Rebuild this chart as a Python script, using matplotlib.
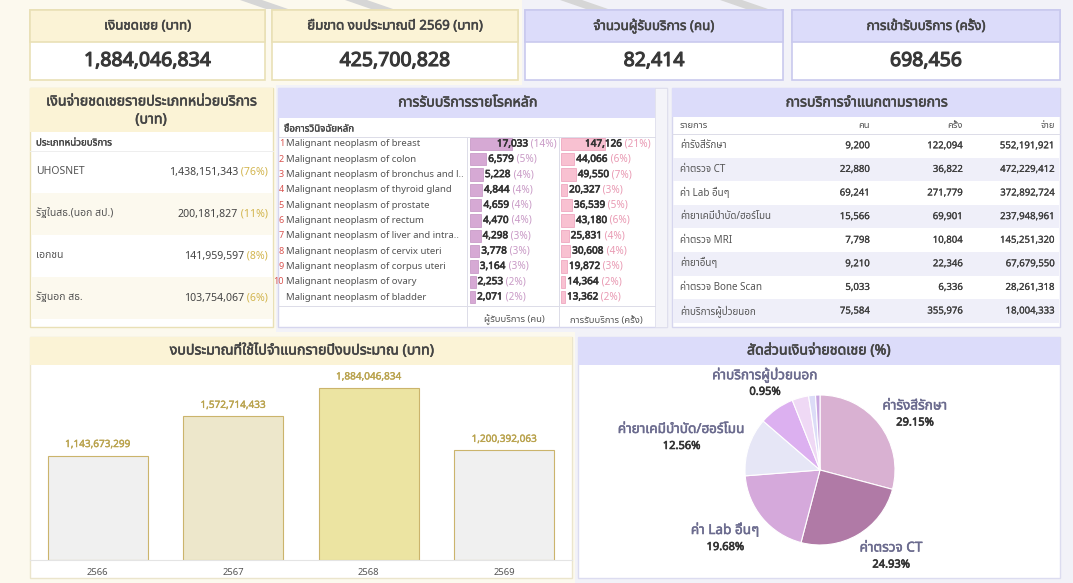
import matplotlib
matplotlib.use('Agg')
import matplotlib.pyplot as plt
from matplotlib import font_manager
from matplotlib import patheffects as pe
from matplotlib.ft2font import FT2Font
from matplotlib.patches import Rectangle, Polygon
import numpy as np

# ---------------- data ----------------
kpi_titles = ['เงินชดเชย (บาท)', 'ยืมขาด งบประมาณปี 2569 (บาท)',
              'จำนวนผู้รับบริการ (คน)', 'การเข้ารับบริการ (ครั้ง)']
kpi_values = [1884046834, 425700828, 82414, 698456]

unit_types = ['UHOSNET', 'รัฐในสธ.(นอก สป.)', 'เอกชน', 'รัฐนอก สธ.']
unit_paid = [1438151343, 200181827, 141959597, 103754067]

diseases = ['Malignant neoplasm of breast', 'Malignant neoplasm of colon',
            'Malignant neoplasm of bronchus and l..', 'Malignant neoplasm of thyroid gland',
            'Malignant neoplasm of prostate', 'Malignant neoplasm of rectum',
            'Malignant neoplasm of liver and intra..', 'Malignant neoplasm of cervix uteri',
            'Malignant neoplasm of corpus uteri', 'Malignant neoplasm of ovary',
            'Malignant neoplasm of bladder']
dis_people = [17033, 6579, 5228, 4844, 4659, 4470, 4298, 3778, 3164, 2253, 2071]
dis_people_pct = [14, 5, 4, 4, 4, 4, 3, 3, 3, 2, 2]
dis_visits = [147126, 44066, 49550, 20327, 36539, 43180, 25831, 30608, 19872, 14364, 13362]
dis_visits_pct = [21, 6, 7, 3, 5, 6, 4, 4, 3, 2, 2]

svc_names = ['ค่ารังสีรักษา', 'ค่าตรวจ CT', 'ค่า Lab อื่นๆ', 'ค่ายาเคมีบำบัด/ฮอร์โมน',
             'ค่าตรวจ MRI', 'ค่ายาอื่นๆ', 'ค่าตรวจ Bone Scan', 'ค่าบริการผู้ป่วยนอก']
svc_people = [9200, 22880, 69241, 15566, 7798, 9210, 5033, 75584]
svc_visits = [122094, 36822, 271779, 69901, 10804, 22346, 6336, 355976]
svc_paid = [552191921, 472229412, 372892724, 237948961, 145251320, 67679550, 28261318, 18004333]
pie_show_label = [True, True, True, True, False, False, False, True]
pie_colors = ['#d9b1d2', '#b07aa6', '#d5a9db', '#e6e6f6', '#dcb0f0', '#efd9f5', '#dcdcf7', '#c8a6e0']

years = ['2566', '2567', '2568', '2569']
budget = [1143673299, 1572714433, 1884046834, 1200392063]
budget_colors = ['#f0f0f0', '#ede7cb', '#ece4a2', '#f0f0f0']


# ---------------- fonts ----------------
def find_thai_font():
    found = []
    for f in font_manager.fontManager.ttflist:
        try:
            if 0x0E01 in FT2Font(f.fname).get_charmap():
                found.append(f.name)
        except Exception:
            pass
    for pref in ['Noto Sans Thai', 'Tahoma', 'Sarabun', 'Loma', 'Garuda']:
        if pref in found:
            return pref
    return found[0] if found else None

thai = find_thai_font()
fams = ['Noto Sans', 'DejaVu Sans']
if thai:
    fams = ['Noto Sans', thai, 'DejaVu Sans']
plt.rcParams['font.family'] = fams

W, H = 1073, 583
fig = plt.figure(figsize=(W / 100, H / 100), dpi=100)
renderer = fig.canvas.get_renderer()

bg = fig.add_axes([0, 0, 1, 1])
bg.set_xlim(0, W)
bg.set_ylim(H, 0)
bg.axis('off')

# all text goes on a transparent layer above every chart
fg = fig.add_axes([0, 0, 1, 1])
fg.set_xlim(0, W)
fg.set_ylim(H, 0)
fg.axis('off')
fg.set_zorder(10)


def px_axes(x0, y0, x1, y1):
    return fig.add_axes([x0 / W, 1 - y1 / H, (x1 - x0) / W, (y1 - y0) / H])


def box(x0, y0, x1, y1, fc, ec='none', lw=0.8, z=1):
    bg.add_patch(Rectangle((x0, y0), x1 - x0, y1 - y0, facecolor=fc,
                           edgecolor=ec, lw=lw, zorder=z))


def hline(x0, x1, y, c='#dcdce8', lw=0.7):
    bg.plot([x0, x1], [y, y], color=c, lw=lw, zorder=3)


def vline(x, y0, y1, c='#dcdce8', lw=0.7):
    bg.plot([x, x], [y0, y1], color=c, lw=lw, zorder=3)


def txt(x, y, s, thick=0, **kw):
    # thick: fake bold by stroking the glyphs (the fonts here have no bold face)
    kw.setdefault('va', 'center')
    t = fg.text(x, y, s, **kw)
    if thick:
        t.set_path_effects([pe.withStroke(linewidth=thick, foreground=kw.get('color', 'k'))])
    return t


def width_of(t):
    return t.get_window_extent(renderer=renderer).width


def pair_right(x, y, main, extra, c1, c2, fs, thick=0):
    t2 = txt(x, y, extra, ha='right', color=c2, fontsize=fs)
    txt(x - width_of(t2), y, main, ha='right', color=c1, fontsize=fs, thick=thick)


def pair_left(x, y, main, extra, c1, c2, fs, thick=0):
    t1 = txt(x, y, main, ha='left', color=c1, fontsize=fs, thick=thick)
    txt(x + width_of(t1), y, extra, ha='left', color=c2, fontsize=fs)


# ---------------- background ----------------
box(0, 0, W, H, '#f2f2f8', z=0)
bg.add_patch(Polygon([(0, 0), (522, 0), (522, 85), (276, 85), (276, 332),
                      (575, 332), (575, H), (0, H)], closed=True,
                     facecolor='#fcf9ee', edgecolor='none', zorder=0))
# faint watermark stripes at top
for sx in [240, 345, 560, 720]:
    bg.add_patch(Polygon([(sx, 0), (sx + 22, 0), (sx + 48, 9), (sx + 26, 9)],
                         closed=True, facecolor='#d6d6d6', edgecolor='none', zorder=0.5))

YEL_H, YEL_E = '#fbf3d6', '#e9e0b6'
PUR_H, PUR_E = '#dcdcfa', '#c9c9ee'
TITLE_C = '#444444'
TT = 0.4      # title stroke
TFS = 10.2    # panel title size

# ---------------- KPI cards ----------------
cards = [(30, 265, YEL_H, YEL_E), (272, 518, YEL_H, YEL_E),
         (525, 783, PUR_H, PUR_E), (792, 1060, PUR_H, PUR_E)]
for (x0, x1, hc, ec), title, val in zip(cards, kpi_titles, kpi_values):
    box(x0, 10, x1, 80, 'white', ec, lw=1.2)
    box(x0, 10, x1, 42, hc, ec, lw=1.2)
    txt((x0 + x1) / 2, 26, title, ha='center', fontsize=9.6, color=TITLE_C, thick=TT)
    txt((x0 + x1) / 2, 61, f'{val:,}', ha='center', fontsize=14, color='#383838', thick=0.8)

# ---------------- left table ----------------
box(30, 88, 273, 327, 'white', YEL_E, lw=1)
box(30, 88, 273, 132, YEL_H, 'none')
txt(151, 102, 'เงินจ่ายชดเชยรายประเภทหน่วยบริการ', ha='center', fontsize=TFS, color=TITLE_C, thick=TT)
txt(151, 120, '(บาท)', ha='center', fontsize=TFS, color=TITLE_C, thick=TT)
txt(36, 143, 'ประเภทหน่วยบริการ', ha='left', fontsize=7, color='#444444', thick=0.2)
hline(30, 273, 151, c='#eeeeee')
total_unit = sum(unit_paid)
for i, (name, v) in enumerate(zip(unit_types, unit_paid)):
    y0 = 151 + i * 42
    if i % 2 == 1:
        box(31, y0, 272, y0 + 42, '#fcf9ee', z=1.5)
    yc = y0 + 21
    txt(36, yc, name, ha='left', fontsize=7.5, color='#555555')
    pair_right(268, yc, f'{v:,}', f' ({round(100 * v / total_unit)}%)',
               '#444444', '#d2b54e', 7.6)

# ---------------- middle table ----------------
box(278, 88, 667, 327, 'white', '#d6d6ee', lw=1)
box(278, 88, 655, 118, PUR_H, 'none', z=2)
box(655, 88, 667, 327, '#f4f4f9', '#dedeec', lw=0.6, z=2)
txt(467, 103, 'การรับบริการรายโรคหลัก', ha='center', fontsize=TFS, color=TITLE_C, thick=TT)
txt(284, 129, 'ชื่อการวินิจฉัยหลัก', ha='left', fontsize=7, color='#444444', thick=0.2)
hline(278, 655, 137)
hline(278, 655, 306)
vline(467, 137, 327)
vline(559, 137, 327)

row_y = 144 + 15.3 * np.arange(len(diseases))
for i, (name, y) in enumerate(zip(diseases, row_y)):
    if i < 10:
        txt(284, y, str(i + 1), ha='right', fontsize=6.5, color='#d9534f')
    txt(286, y, name, ha='left', fontsize=6.9, color='#555555')

ax_p = px_axes(470, 136.35, 557, 304.65)
ax_p.barh(range(len(dis_people)), dis_people, height=0.8, color='#d6a9d4',
          edgecolor='#c390c1', lw=0.5)
ax_p.set_xlim(0, max(dis_people) * 87 / 42)
ax_p.set_ylim(len(dis_people) - 0.5, -0.5)
ax_p.axis('off')

ax_v = px_axes(561, 136.35, 652, 304.65)
ax_v.barh(range(len(dis_visits)), dis_visits, height=0.8, color='#f8c1d1',
          edgecolor='#ec9cb8', lw=0.5)
ax_v.set_xlim(0, max(dis_visits) * 91 / 44)
ax_v.set_ylim(len(dis_visits) - 0.5, -0.5)
ax_v.axis('off')


def bar_labels(ax, vals, pcts, c_pct, right_edge):
    top = max(vals)
    for i, (v, p) in enumerate(zip(vals, pcts)):
        xd, yd = ax.transData.transform((v, i))
        y = H - yd
        if v / top > 0.6:
            pair_right(right_edge, y, f'{v:,}', f' ({p}%)', '#333333', c_pct, 7.2, thick=0.45)
        else:
            pair_left(xd + 2, y, f'{v:,}', f' ({p}%)', '#333333', c_pct, 7.2, thick=0.45)


bar_labels(ax_p, dis_people, dis_people_pct, '#c99ac6', 557)
bar_labels(ax_v, dis_visits, dis_visits_pct, '#e99ab3', 651)
txt(514, 320, 'ผู้รับบริการ (คน)', ha='center', fontsize=6.8, color='#555555')
txt(606, 320, 'การรับบริการ (ครั้ง)', ha='center', fontsize=6.8, color='#555555')

# ---------------- right table ----------------
box(672, 88, 1060, 327, 'white', '#d6d6ee', lw=1)
box(672, 88, 1060, 117, PUR_H, 'none', z=2)
txt(866, 103, 'การบริการจำแนกตามรายการ', ha='center', fontsize=TFS, color=TITLE_C, thick=TT)
txt(680, 126, 'รายการ', ha='left', fontsize=6.8, color='#555555')
txt(870, 126, 'คน', ha='right', fontsize=6.8, color='#555555')
txt(963, 126, 'ครั้ง', ha='right', fontsize=6.8, color='#555555')
txt(1055, 126, 'จ่าย', ha='right', fontsize=6.8, color='#555555')
hline(672, 1060, 134)
for i in range(len(svc_names)):
    y0 = 134 + i * 23.6
    if i % 2 == 1:
        box(673, y0, 1059, y0 + 23.6, '#efeff9', z=1.5)
    yc = y0 + 11.8
    txt(680, yc, svc_names[i], ha='left', fontsize=7.1, color='#555555')
    txt(870, yc, f'{svc_people[i]:,}', ha='right', fontsize=6.9, color='#3c3c3c', thick=0.15)
    txt(963, yc, f'{svc_visits[i]:,}', ha='right', fontsize=6.9, color='#3c3c3c', thick=0.15)
    txt(1055, yc, f'{svc_paid[i]:,}', ha='right', fontsize=6.9, color='#3c3c3c', thick=0.15)

# ---------------- bar chart panel ----------------
box(30, 337, 572, 578, 'white', '#ebe5cc', lw=1)
box(30, 337, 572, 365, YEL_H, 'none', z=2)
txt(301, 351, 'งบประมาณที่ใช้ไปจำแนกรายปีงบประมาณ (บาท)', ha='center', fontsize=TFS,
    color=TITLE_C, thick=TT)

ax_b = px_axes(30, 365, 572, 560)
ax_b.bar(range(len(years)), budget, width=0.74, color=budget_colors,
         edgecolor='#cbb46c', lw=0.8)
ax_b.set_xlim(-0.5, len(years) - 0.5)
ax_b.set_ylim(0, max(budget) * 195 / 172)
for i, v in enumerate(budget):
    a = ax_b.annotate(f'{v:,}', (i, v), xytext=(0, 4), textcoords='offset points',
                      ha='center', va='bottom', fontsize=7.2, color='#b9a24c')
    a.set_path_effects([pe.withStroke(linewidth=0.25, foreground='#b9a24c')])
ax_b.set_xticks(range(len(years)))
ax_b.set_xticklabels(years, fontsize=6.8, color='#555555')
ax_b.tick_params(axis='x', length=0, pad=6)
ax_b.set_yticks([])
for s in ['top', 'left', 'right']:
    ax_b.spines[s].set_visible(False)
ax_b.spines['bottom'].set_color('#e4e4e4')
ax_b.patch.set_alpha(0)

# ---------------- pie panel ----------------
box(578, 337, 1060, 578, 'white', '#dcdcf0', lw=1)
box(578, 337, 1060, 365, PUR_H, 'none', z=2)
txt(819, 351, 'สัดส่วนเงินจ่ายชดเชย (%)', ha='center', fontsize=TFS, color=TITLE_C, thick=TT)

ax_pie = px_axes(745, 395, 895, 545)
wedges, _ = ax_pie.pie(svc_paid, colors=pie_colors, startangle=90, counterclock=False,
                       wedgeprops=dict(edgecolor='white', lw=0.8))
ax_pie.set_xlim(-1, 1)
ax_pie.set_ylim(-1, 1)

total_paid = sum(svc_paid)
for w, name, v, show in zip(wedges, svc_names, svc_paid, pie_show_label):
    if not show:
        continue
    ang = np.deg2rad((w.theta1 + w.theta2) / 2)
    c, s = np.cos(ang), np.sin(ang)
    xd, yd = ax_pie.transData.transform((1.05 * c, 1.05 * s))
    ax_, ay_ = xd, H - yd
    top = ay_ - 24 if s >= 0 else ay_ + 2
    ha = 'left' if c > 0 else 'right'
    t = txt(ax_, top + 8, name, ha=ha, fontsize=9.8, color='#6b6b8e', thick=0.35)
    wn = width_of(t)
    cx = ax_ + wn / 2 if c > 0 else ax_ - wn / 2
    txt(cx, top + 25, f'{100 * v / total_paid:.2f}%', ha='center', fontsize=8,
        color='#333333', thick=0.45)

fig.savefig('out.png', dpi=100)
